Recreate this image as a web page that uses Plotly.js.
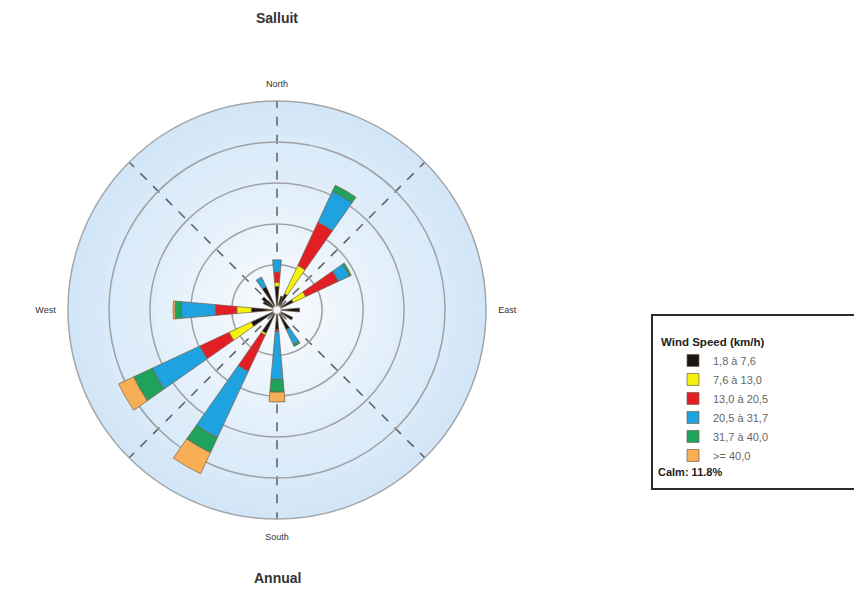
<!DOCTYPE html>
<html>
<head>
<meta charset="utf-8">
<script src="https://cdn.plot.ly/plotly-3.0.1.min.js"></script>
<style>html,body{margin:0;padding:0;background:#fff;}#chart{width:854px;height:592px;}</style>
</head>
<body>
<div id="chart"></div>
<script>
// Direction bins (degrees, clockwise from North)
const directions = [0, 20, 30, 60, 90, 120, 150, 180, 210, 240, 270, 300, 310, 330];
// Frequency (%) per speed class, per direction
const speed_1_8_7_6   = [0.95, 0.50, 0.67, 0.67, 0.90, 0.65, 0.86, 0.76, 1.05, 1.19, 1.05, 0.55, 0.70, 1.05];
const speed_7_6_13_0  = [0.20, 0,    1.52, 0.67, 0,    0,    0,    0,    0.10, 1.19, 0.71, 0,    0,    0   ];
const speed_13_0_20_5 = [0.50, 0,    2.33, 1.76, 0,    0,    0,    0.10, 1.95, 1.57, 1.05, 0,    0,    0   ];
const speed_20_5_31_7 = [0.60, 0,    1.67, 0.60, 0,    0,    0.80, 2.33, 3.57, 2.57, 1.67, 0,    0,    0.52];
const speed_31_7_40_0 = [0,    0,    0.33, 0.10, 0,    0,    0.10, 0.62, 0.81, 1.00, 0.29, 0,    0,    0   ];
const speed_40_plus   = [0,    0,    0,    0,    0,    0,    0,    0.48, 1.14, 0.81, 0.10, 0,    0,    0   ];
const classNames = ['1,8 à 7,6', '7,6 à 13,0', '13,0 à 20,5', '20,5 à 31,7', '31,7 à 40,0', '>= 40,0'];
const classColors = ['#161616', '#f4f20c', '#e21f26', '#1fa3e0', '#1fa35c', '#f7ae55'];
const compassLabels = ['North', 'East', 'South', 'West'];
const compassAngles = [0, 90, 180, 270];
const calmText = 'Calm: 11.8%';

const series = [speed_1_8_7_6, speed_7_6_13_0, speed_13_0_20_5, speed_20_5_31_7, speed_31_7_40_0, speed_40_plus];

const traces = series.map((vals, i) => ({
  type: 'barpolar',
  subplot: 'polar',
  r: vals,
  theta: directions,
  width: directions.map(() => 10),
  name: classNames[i],
  marker: {color: classColors[i], line: {color: 'rgba(120,95,70,0.7)', width: 1}},
  hoverinfo: 'skip'
}));
// helper trace so the label-only overlay subplot is built
traces.push({type: 'barpolar', subplot: 'polar2', r: [0], theta: [0], showlegend: false,
  marker: {color: 'rgba(0,0,0,0)'}, hoverinfo: 'skip'});

// geometry of the polar circle (page px)
const W = 854, H = 592;
const cx = 277, cy = 310, R = 209;
const dom = {x: [(cx - R) / W, (cx + R) / W], y: [1 - (cy + R) / H, 1 - (cy - R) / H]};

// radial gradient background as stacked circles
const shapes = [];
const steps = 24;
const c0 = [210, 230, 247], c1 = [248, 251, 254];
for (let k = 0; k < steps; k++) {
  const rr = R * (1 - k / steps);
  const t = k / (steps - 1);
  const col = 'rgb(' + c0.map((v, j) => Math.round(v + (c1[j] - v) * t)).join(',') + ')';
  shapes.push({type: 'circle', xref: 'paper', yref: 'paper', layer: 'below',
    x0: (cx - rr) / W, x1: (cx + rr) / W, y0: 1 - (cy + rr) / H, y1: 1 - (cy - rr) / H,
    fillcolor: col, line: {width: 0}});
}
// legend frame
shapes.push({type: 'rect', xref: 'paper', yref: 'paper', layer: 'above',
  x0: 652 / W, x1: 1.02, y0: 1 - 489 / H, y1: 1 - 315 / H,
  line: {color: '#2a2a2a', width: 2}, fillcolor: 'rgba(0,0,0,0)'});

const layout = {
  width: W, height: H,
  margin: {l: 0, r: 0, t: 0, b: 0},
  paper_bgcolor: '#ffffff',
  font: {family: 'Liberation Sans, Arial, sans-serif', color: '#333'},
  title: {text: '<b>Salluit</b>', x: cx / W, xanchor: 'center', y: 1 - 18 / H, yanchor: 'middle',
    font: {size: 14, color: '#333', family: 'Liberation Sans, Arial, sans-serif'}},
  showlegend: true,
  legend: {
    x: 659 / W, xanchor: 'left', y: 1 - 331 / H, yanchor: 'top',
    bgcolor: 'rgba(0,0,0,0)', borderwidth: 0,
    title: {text: '<b>Wind Speed (km/h)</b>', font: {size: 11.5, color: '#222'}},
    font: {size: 11, color: '#666'},
    indentation: 14,
    traceorder: 'normal'
  },
  polar: {
    domain: dom,
    bgcolor: 'rgba(0,0,0,0)',
    barmode: 'stack',
    hole: 0.02,
    radialaxis: {range: [0, 10], tickvals: [2, 4, 6, 8], showticklabels: false, ticks: '',
      showline: false, gridcolor: '#9fa2a5', gridwidth: 1.5},
    angularaxis: {rotation: 90, direction: 'clockwise', tickvals: [0, 45, 135, 180, 225, 315],
      showticklabels: false, ticks: '', showgrid: true, gridcolor: '#5a5f63', gridwidth: 1.5,
      griddash: 'dash', showline: true, linecolor: '#a3a6a9', linewidth: 1.5}
  },
  polar2: {
    domain: dom,
    bgcolor: 'rgba(0,0,0,0)',
    radialaxis: {visible: false, range: [0, 10]},
    angularaxis: {rotation: 90, direction: 'clockwise', tickvals: compassAngles, ticktext: compassLabels,
      showgrid: false, showline: false, ticks: 'outside', ticklen: 10, tickcolor: 'rgba(0,0,0,0)',
      tickfont: {size: 9, color: '#333'}}
  },
  shapes: shapes,
  annotations: [
    {text: '<b>Annual</b>', xref: 'paper', yref: 'paper', x: cx / W, y: 1 - 578 / H,
      xanchor: 'center', yanchor: 'middle', showarrow: false, font: {size: 14, color: '#333'}},
    {text: '<b>' + calmText + '</b>', xref: 'paper', yref: 'paper', x: 656 / W, y: 1 - 472 / H,
      xanchor: 'left', yanchor: 'middle', showarrow: false, font: {size: 11, color: '#222'}}
  ]
};

Plotly.newPlot('chart', traces, layout, {displayModeBar: false, staticPlot: true});
</script>
</body>
</html>
